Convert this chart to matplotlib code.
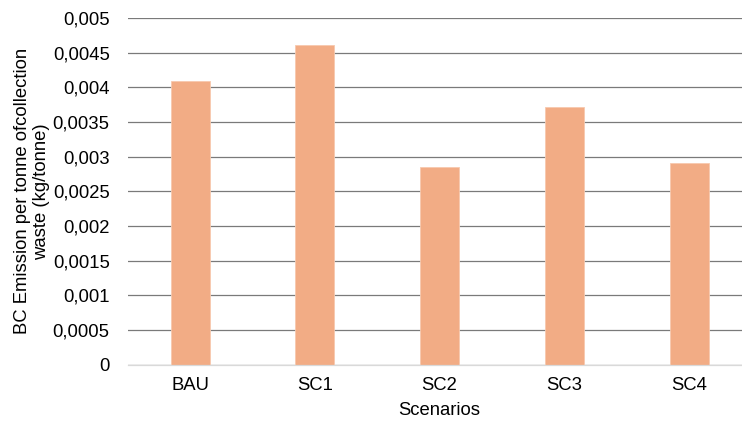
import matplotlib
matplotlib.use("Agg")
import matplotlib.pyplot as plt
from matplotlib.ticker import FuncFormatter, MultipleLocator

plt.rcParams['font.family'] = ['Liberation Sans', 'DejaVu Sans']

scenarios = ["BAU", "SC1", "SC2", "SC3", "SC4"]
bc_emission = [0.00409, 0.00461, 0.00285, 0.00372, 0.00291]

FS = 13.3

fig = plt.figure(figsize=(7.42, 4.21), dpi=100)
ax = fig.add_axes([0.1721, 0.1337, 0.8406, 0.8235])

x = range(len(scenarios))
ax.bar(x, bc_emission, width=0.313, color="#F2AC85", edgecolor="#F7C9AE",
       linewidth=0.6, zorder=3)

ax.set_xlim(-0.5, len(scenarios) - 0.5)
ax.set_ylim(0, 0.005)
ax.yaxis.set_major_locator(MultipleLocator(0.0005))


def comma_fmt(v, pos):
    if abs(v) < 1e-12:
        return "0"
    s = f"{v:.4f}".rstrip("0")
    return s.replace(".", ",")


ax.yaxis.set_major_formatter(FuncFormatter(comma_fmt))
ax.grid(axis="y", color="#7a7a7a", linewidth=0.9, zorder=0)
ax.set_axisbelow(True)

for side in ["top", "right", "left"]:
    ax.spines[side].set_visible(False)
ax.spines["bottom"].set_color("#d9d9d9")
ax.spines["bottom"].set_linewidth(0.9)
ax.spines["bottom"].set_zorder(4)

ax.set_xticks(list(x))
ax.set_xticklabels(scenarios)
ax.tick_params(axis="both", length=0, labelsize=FS, colors="#000000")
ax.tick_params(axis="y", pad=13)
ax.tick_params(axis="x", pad=9)

ax.set_xlabel("Scenarios", fontsize=FS, labelpad=5.5)
ax.set_ylabel("BC Emission per tonne ofcollection\nwaste (kg/tonne)",
              fontsize=FS, labelpad=2, linespacing=1.15)

fig.savefig("out.png", dpi=100)
